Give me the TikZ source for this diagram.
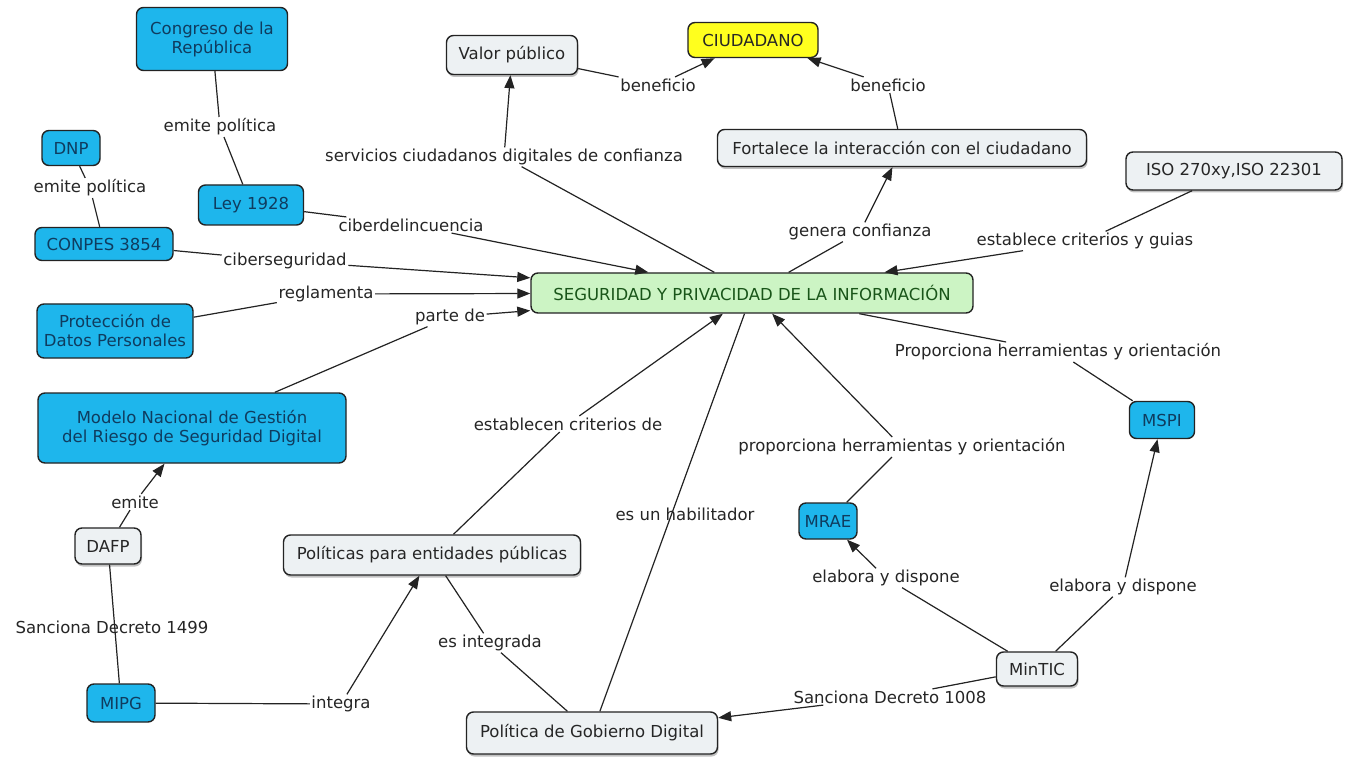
\documentclass[tikz,border=0pt]{standalone}
\usepackage{fontspec}
\setmainfont{DejaVu Sans}
\usetikzlibrary{arrows.meta,shadows}
\definecolor{cblue}{RGB}{30,182,236}
\definecolor{cbluetxt}{RGB}{15,60,95}
\definecolor{cgray}{RGB}{237,241,243}
\definecolor{cgreen}{RGB}{204,244,196}
\definecolor{cgreentxt}{RGB}{25,85,25}
\definecolor{cyel}{RGB}{255,255,30}
\definecolor{cline}{RGB}{35,35,35}
\begin{document}
\begin{tikzpicture}[x=1pt,y=-1pt,
  font=\fontsize{16.5}{19}\selectfont,
  concept/.style={draw=cline, line width=1.4pt, rounded corners=7pt, align=center, inner sep=2pt},
  bluec/.style={concept, fill=cblue, text=cbluetxt},
  grayc/.style={concept, fill=cgray, text=black!85, drop shadow={shadow xshift=1pt,shadow yshift=-2.5pt,fill=black!40,opacity=0.6}},
  greenc/.style={concept, fill=cgreen, text=cgreentxt},
  yelc/.style={concept, fill=cyel, text=black!85},
  lab/.style={inner sep=1.5pt, text=black!85},
  link/.style={draw=cline, line width=1.2pt},
  arr/.style={link, -{Triangle[length=13pt,width=10pt]}},
]
\useasboundingbox[fill=white] (0,0) rectangle (1353,762);

% concepts
\node[bluec, minimum width=151, minimum height=63] (cong) at (212,39) {Congreso de la\\República};
\node[bluec, minimum width=58, minimum height=35] (dnp) at (71,148) {DNP};
\node[bluec, minimum width=105, minimum height=40] (ley) at (251,205) {Ley 1928};
\node[bluec, minimum width=138, minimum height=33] (conpes) at (104,244) {CONPES 3854};
\node[bluec, minimum width=156, minimum height=54] (prot) at (115,331) {Protección de\\Datos Personales};
\node[bluec, minimum width=308, minimum height=70] (modelo) at (192,428) {Modelo Nacional de Gestión\\del Riesgo de Seguridad Digital};
\node[grayc, minimum width=66, minimum height=36] (dafp) at (108,546) {DAFP};
\node[bluec, minimum width=68, minimum height=38] (mipg) at (121,703) {MIPG};
\node[grayc, minimum width=297, minimum height=40] (polent) at (432,555) {Políticas para entidades públicas};
\node[grayc, minimum width=251, minimum height=42] (pgd) at (592,733) {Política de Gobierno Digital};
\node[greenc, minimum width=442, minimum height=40] (seg) at (752,293) {SEGURIDAD Y PRIVACIDAD DE LA INFORMACIÓN};
\node[grayc, minimum width=131, minimum height=39] (valor) at (512,55) {Valor público};
\node[yelc, minimum width=130, minimum height=35] (ciu) at (753,40) {CIUDADANO};
\node[grayc, minimum width=369, minimum height=37] (fort) at (902,148) {Fortalece la interacción con el ciudadano};
\node[grayc, minimum width=216, minimum height=38] (iso) at (1234,171) {ISO 270xy,ISO 22301};
\node[bluec, minimum width=65, minimum height=37] (mspi) at (1162,420) {MSPI};
\node[bluec, minimum width=58, minimum height=36] (mrae) at (828,521) {MRAE};
\node[grayc, minimum width=81, minimum height=34] (mintic) at (1037,669) {MinTIC};

% linking phrases
\node[lab] (l1) at (220,127) {emite política};
\node[lab] (l2) at (90,188) {emite política};
\node[lab] (l3) at (411,225) {ciberdelincuencia};
\node[lab] (l4) at (285,261) {ciberseguridad};
\node[lab] (l5) at (326,294) {reglamenta};
\node[lab] (l6) at (450,317) {parte de};
\node[lab] (l7) at (135,502) {emite};
\node[lab] (l8) at (112,627) {Sanciona Decreto 1499};
\node[lab] (l9) at (341,704) {integra};
\node[lab] (l10) at (568,424) {establecen criterios de};
\node[lab] (l11) at (490,643) {es integrada};
\node[lab] (l12) at (685,514) {es un habilitador};
\node[lab] (l13) at (504,157) {servicios ciudadanos digitales de confianza};
\node[lab] (l14) at (658,85) {beneficio};
\node[lab] (l15) at (888,85) {beneficio};
\node[lab] (l16) at (860,232) {genera confianza};
\node[lab] (l17) at (1085,241) {establece criterios y guias};
\node[lab] (l18) at (1058,352) {Proporciona herramientas y orientación};
\node[lab] (l19) at (902,447) {proporciona herramientas y orientación};
\node[lab] (l20) at (886,578) {elabora y dispone};
\node[lab] (l21) at (1123,587) {elabora y dispone};
\node[lab] (l22) at (890,697) {Sanciona Decreto 1008};

% connectors
\draw[link] (cong) -- (l1); \draw[link] (l1) -- (ley);
\draw[link] (dnp) -- (l2); \draw[link] (l2) -- (conpes);
\draw[link] (ley) -- (l3); \draw[arr] (l3) -- (seg);
\draw[link] (conpes) -- (l4); \draw[arr] (l4) -- (seg);
\draw[link] (prot) -- (l5); \draw[arr] (l5) -- (seg);
\draw[link] (modelo) -- (l6); \draw[arr] (l6) -- (seg);
\draw[link] (dafp) -- (l7); \draw[arr] (l7) -- (modelo);
\draw[link] (dafp) -- (mipg);
\draw[link] (mipg) -- (l9); \draw[arr] (l9) -- (polent);
\draw[link] (polent) -- (l10); \draw[arr] (l10) -- (seg);
\draw[link] (pgd) -- (l11); \draw[link] (l11) -- (polent);
\draw[link] (pgd) -- (seg);
\draw[link] (seg) -- (l13); \draw[arr] (l13) -- (valor);
\draw[link] (valor) -- (l14); \draw[arr] (l14) -- (ciu);
\draw[link] (fort) -- (l15); \draw[arr] (l15) -- (ciu);
\draw[link] (seg) -- (l16); \draw[arr] (l16) -- (fort);
\draw[link] (iso) -- (l17); \draw[arr] (l17) -- (seg);
\draw[link] (seg) -- (l18); \draw[link] (l18) -- (mspi);
\draw[link] (mrae) -- (l19); \draw[arr] (l19) -- (seg);
\draw[link] (mintic) -- (l20); \draw[arr] (l20) -- (mrae);
\draw[link] (mintic) -- (l21); \draw[arr] (l21) -- (mspi);
\draw[link] (mintic) -- (l22); \draw[arr] (l22) -- (pgd);
\end{tikzpicture}
\end{document}
